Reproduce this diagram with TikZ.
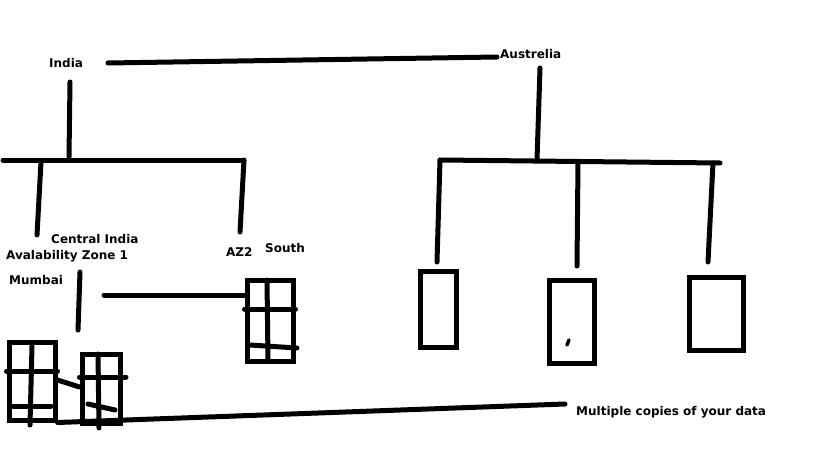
\documentclass[tikz,border=0pt]{standalone}
\usepackage{fontspec}
\setmainfont{DejaVu Sans}
\begin{document}
\begin{tikzpicture}[x=1pt,y=-1pt,
            pen/.style={line width=5pt, line cap=round},
            lbl/.style={font=\bfseries\fontsize{12}{14}\selectfont, inner sep=0pt, anchor=base west},
            frame/.style={draw, line width=5pt, inner sep=0pt},
        ]
            \useasboundingbox (0,0) rectangle (819,460);
            % labels
            \node[lbl] (india) at (49,67) {India};
            \node[lbl] (austr) at (500,59) {Austrelia};
            \node[lbl] (central) at (51,243) {Central India};
            \node[lbl] (zone1) at (6,259) {Avalability Zone 1};
            \node[lbl] (mumbai) at (9,284) {Mumbai};
            \node[lbl] (az2) at (226,256) {AZ2};
            \node[lbl] (south) at (265,252) {South};
            \node[lbl] (copies) at (576,415) {Multiple copies of your data};
            % windows and boxes
            \node[frame, minimum width=46pt, minimum height=78pt] (winA) at (32,381) {};
            \node[frame, minimum width=38pt, minimum height=69pt] (winB) at (101,388.5) {};
            \node[frame, minimum width=46pt, minimum height=81pt] (winS) at (270,320.5) {};
            \node[frame, minimum width=36pt, minimum height=76pt] (boxA) at (438,309) {};
            \node[frame, minimum width=45pt, minimum height=83pt] (boxB) at (571.5,321.5) {};
            \node[frame, minimum width=54pt, minimum height=73pt] (boxC) at (716,313.5) {};
            % India tree
            \coordinate (link) at (108,63);
            \coordinate (linkEnd) at (497,57);
            \coordinate (inTop) at (70,82);
            \coordinate (inJoin) at (69,157);
            \coordinate (inL) at (3,160);
            \coordinate (inR) at (244,160);
            \draw[pen] (link) -- (linkEnd);
            \draw[pen] (inTop) -- (inJoin);
            \draw[pen] (inL) -- (inR);
            \draw[pen] (41,162) -- (37,235);
            \draw[pen] (inR) -- (240,232);
            \draw[pen] (80,272) -- (78,330);
            \draw[pen] (104,295) -- (winS.west |- 0,295);
            % Australia tree
            \coordinate (auJoin) at (537,160);
            \coordinate (auL) at (440,160);
            \coordinate (auR) at (720,163);
            \draw[pen] (540,68) -- (auJoin);
            \draw[pen] (auL) -- (auR);
            \draw[pen] (auL) -- (437,262);
            \draw[pen] (578,162) -- (577,266);
            \draw[pen] (713,163) -- (708,262);
            \draw[line width=3.5pt, line cap=round] (567,345) -- (569,340);
            % panes
            \draw[pen] (267,280) -- (268,361);
            \draw[pen] (winS.west |- 0,309) -- (winS.east |- 0,309);
            \draw[pen] (250,345) -- (297,348);
            \draw[pen] (winA.west |- 0,371) -- (winA.east |- 0,371);
            \draw[pen] (32,346) -- (30,425);
            \draw[pen] (13,406) -- (51,406);
            \draw[pen] (98,354) -- (99,428);
            \draw[pen] (winB.west |- 0,377) -- (126,377);
            \draw[pen] (88,404) -- (115,410);
            \draw[pen] (winA.east |- 0,380) -- (winB.west |- 0,387);
            \draw[pen] (winA.south east) -- (565,404);
        \end{tikzpicture}
\end{document}
